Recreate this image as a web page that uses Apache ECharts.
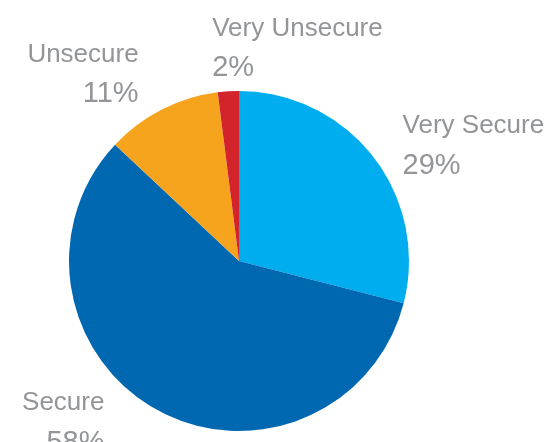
<!DOCTYPE html>
<html>
<head>
<meta charset="utf-8">
<script src="https://cdn.jsdelivr.net/npm/echarts@6/dist/echarts.min.js"></script>
<style>
  html, body { margin: 0; padding: 0; background: #ffffff; }
  #chart { width: 550px; height: 442px; }
</style>
</head>
<body>
<div id="chart"></div>
<script>
// Survey shares, clockwise from 12 o'clock
const categories = ['Very Secure', 'Secure', 'Unsecure', 'Very Unsecure'];
const shares = [29, 58, 11, 2];

const sliceColors = ['#00aeef', '#0067b1', '#f6a31e', '#d3232b'];
// per-label alignment and nudges (px) relative to the library's outside anchor
const labelAlign = ['left', 'right', 'right', 'left'];
const labelNudge = [[0, 0], [-29, -3], [0, -19], [0, -25]];

const chart = echarts.init(document.getElementById('chart'), null, { renderer: 'canvas' });

chart.setOption({
  backgroundColor: '#ffffff',
  animation: false,
  series: [{
    type: 'pie',
    center: [239, 261],
    radius: 170,
    startAngle: 90,
    clockwise: true,
    avoidLabelOverlap: false,
    minShowLabelAngle: 0,
    data: categories.map((name, i) => ({
      name: name,
      value: shares[i],
      itemStyle: { color: sliceColors[i] }
    })),
    itemStyle: { borderWidth: 0 },
    label: {
      show: true,
      position: 'outside',
      formatter: '{n|{b}}\n{p|{c}%}',
      color: '#939598',
      fontFamily: 'Liberation Sans, Arial, sans-serif',
      rich: {
        n: { fontSize: 26, lineHeight: 40, color: '#939598', fontFamily: 'Liberation Sans, Arial, sans-serif' },
        p: { fontSize: 29, lineHeight: 40, color: '#939598', fontFamily: 'Liberation Sans, Arial, sans-serif' }
      }
    },
    labelLine: { show: false, length: 18, length2: 10 },
    labelLayout: function (params) {
      const i = params.dataIndex;
      return {
        hideOverlap: false,
        align: labelAlign[i],
        dx: labelNudge[i][0],
        dy: labelNudge[i][1]
      };
    },
    emphasis: { disabled: true }
  }]
});
</script>
</body>
</html>
